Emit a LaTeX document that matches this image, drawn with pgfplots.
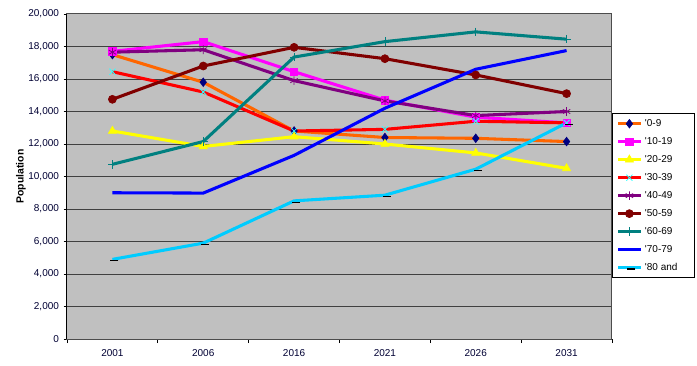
\documentclass[border=0pt]{standalone}
\usepackage{fontspec}
\setmainfont{Liberation Sans}
\usepackage{pgfplots}
\pgfplotsset{compat=1.18}
\definecolor{bggray}{HTML}{C0C0C0}
\definecolor{cOrange}{HTML}{FF6600}
\definecolor{cMagenta}{HTML}{FF00FF}
\definecolor{cYellow}{HTML}{FFFF00}
\definecolor{cRed}{HTML}{FF0000}
\definecolor{cPurple}{HTML}{800080}
\definecolor{cDarkRed}{HTML}{800000}
\definecolor{cTeal}{HTML}{008080}
\definecolor{cBlue}{HTML}{0000FF}
\definecolor{cSky}{HTML}{00CCFF}
\definecolor{cNavy}{HTML}{000080}
\definecolor{cCyan}{HTML}{33FFFF}
\newcommand{\LE}[1]{\makebox[32pt][l]{\textquotesingle #1}}
\begin{document}
\begin{tikzpicture}
\useasboundingbox (-50.25pt,-19.5pt) rectangle (472.5pt,254.25pt);
\begin{axis}[
  at={(0,0)}, anchor=south west,
  scale only axis, width=408.75pt, height=243.75pt,
  xmin=-0.5, xmax=5.5, ymin=0, ymax=20000,
  axis background/.style={fill=bggray},
  axis line style={draw=gray!60!black, line width=0.75pt},
  xtick={0,1,2,3,4,5},
  xticklabels={2001,2006,2016,2021,2026,2031},
  minor xtick={-0.5,0.5,1.5,2.5,3.5,4.5,5.5},
  major x tick style={draw=none},
  minor x tick style={draw=black, line width=0.6pt},
  minor tick length=3pt,
  ytick={0,2000,...,20000},
  y tick style={draw=black, line width=0.6pt},
  major tick length=2.5pt,
  tick align=outside,
  xtick pos=bottom, ytick pos=left,
  ymajorgrids,
  major grid style={draw=black!75, line width=0.75pt},
  scaled y ticks=false,
  /pgf/number format/.cd, 1000 sep={,}, assume math mode=true,
  /pgfplots/.cd,
  ticklabel style={font=\fontsize{7.5}{9}\selectfont, text=black!80!blue},
  xticklabel style={yshift=-2pt},
  ylabel={Population},
  every axis y label/.style={at={(axis description cs:0,0.5)}, xshift=-34.5pt, rotate=90, anchor=center, font=\bfseries\fontsize{7.8}{9}\selectfont},
  legend style={at={(axis description cs:1,0.695)}, anchor=north west, draw=black, fill=white, line width=0.75pt,
    font=\fontsize{7.5}{9}\selectfont, row sep=2.75pt, inner xsep=3pt, inner ysep=2.2pt, cells={anchor=west}},
  legend cell align=left,
  extra description/.code={\draw[black, line width=0.75pt] (axis description cs:0,0) -- (axis description cs:0,1);},
  every axis plot/.append style={line width=2.3pt, mark options={solid}},
]
\addplot[cOrange, mark=diamond*, mark size=3.2pt, mark options={fill=cNavy, draw=cNavy, line width=0.5pt}] coordinates {(0,17500) (1,15800) (2,12800) (3,12400) (4,12350) (5,12150)};
\addlegendentry{\LE{0-9}}
\addplot[cMagenta, mark=square*, mark size=2.8pt, mark options={fill=cMagenta, draw=cMagenta, line width=0.5pt}] coordinates {(0,17700) (1,18300) (2,16450) (3,14700) (4,13650) (5,13300)};
\addlegendentry{\LE{10-19}}
\addplot[cYellow, mark=triangle*, mark size=3.5pt, mark options={fill=cYellow, draw=cYellow, line width=0.5pt}] coordinates {(0,12800) (1,11850) (2,12450) (3,12000) (4,11450) (5,10500)};
\addlegendentry{\LE{20-29}}
\addplot[cRed, mark=x, mark size=3.2pt, mark options={draw=cCyan, line width=0.6pt}] coordinates {(0,16450) (1,15200) (2,12800) (3,12900) (4,13400) (5,13300)};
\addlegendentry{\LE{30-39}}
\addplot[cPurple, mark=asterisk, mark size=3.2pt, mark options={draw=cPurple, line width=0.6pt}] coordinates {(0,17650) (1,17800) (2,15900) (3,14650) (4,13750) (5,14000)};
\addlegendentry{\LE{40-49}}
\addplot[cDarkRed, mark=*, mark size=3pt, mark options={fill=cDarkRed, draw=cDarkRed, line width=0.5pt}] coordinates {(0,14750) (1,16800) (2,17950) (3,17250) (4,16250) (5,15100)};
\addlegendentry{\LE{50-59}}
\addplot[cTeal, mark=+, mark size=3.2pt, mark options={draw=cTeal, line width=0.6pt}] coordinates {(0,10750) (1,12150) (2,17350) (3,18300) (4,18900) (5,18450)};
\addlegendentry{\LE{60-69}}
\addplot[cBlue, no marks] coordinates {(0,9000) (1,8980) (2,11300) (3,14200) (4,16600) (5,17750)};
\addlegendentry{\LE{70-79}}
\addplot[cSky, mark=-, mark size=3pt, mark options={draw=black, line width=1pt, xshift=1.5pt, yshift=-1pt}] coordinates {(0,4900) (1,5900) (2,8500) (3,8850) (4,10450) (5,13300)};
\addlegendentry{\LE{80 and}}
\end{axis}
\end{tikzpicture}
\end{document}
